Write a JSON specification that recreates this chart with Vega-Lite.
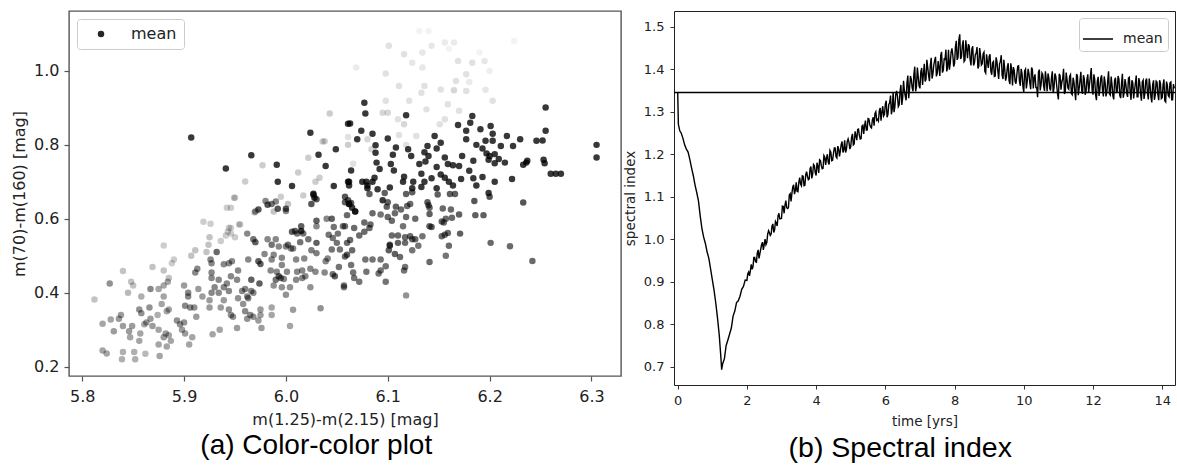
{
  "$schema": "https://vega.github.io/schema/vega-lite/v6.json",
  "background": "white",
  "padding": {"left": 10, "top": 10, "right": 0, "bottom": 0},
  "spacing": 0,
  "config": {"font": "DejaVu Sans", "view": {"stroke": "#555", "strokeWidth": 1.2}},
  "resolve": {"scale": {"color": "independent", "opacity": "independent"}, "legend": {"color": "independent"}},
  "datasets": {
    "pts": [
      {"x":5.907,"y":0.82,"w":1},{"x":5.941,"y":0.736,"w":1},{"x":5.966,"y":0.772,"w":1},{"x":5.991,"y":0.746,"w":1},{"x":5.977,"y":0.745,"w":0.25},{"x":5.96,"y":0.701,"w":0.25},{"x":5.992,"y":0.7,"w":1},{"x":6.006,"y":0.689,"w":1},{"x":6.024,"y":0.833,"w":1},{"x":6.032,"y":0.773,"w":1},{"x":6.039,"y":0.743,"w":1},{"x":6.049,"y":0.788,"w":1},{"x":6.043,"y":0.885,"w":0.25},{"x":6.036,"y":0.809,"w":0.25},{"x":6.038,"y":0.81,"w":0.25},{"x":6.022,"y":0.765,"w":0.25},{"x":6.012,"y":0.725,"w":0.25},{"x":6.033,"y":0.711,"w":0.25},{"x":6.029,"y":0.7,"w":0.25},{"x":6.047,"y":0.689,"w":1},{"x":6.027,"y":0.668,"w":1},{"x":6.061,"y":0.857,"w":1},{"x":6.061,"y":0.8,"w":0.25},{"x":6.061,"y":0.7,"w":1},
      {"x":5.949,"y":0.657,"w":0.25},{"x":5.942,"y":0.63,"w":0.25},{"x":5.944,"y":0.576,"w":0.25},{"x":5.954,"y":0.585,"w":0.25},{"x":5.969,"y":0.617,"w":0.25},{"x":5.98,"y":0.648,"w":0.6},{"x":5.99,"y":0.647,"w":0.6},{"x":6.0,"y":0.621,"w":0.6},{"x":5.97,"y":0.62,"w":0.6},{"x":5.995,"y":0.66,"w":0.25},{"x":6.028,"y":0.657,"w":1},{"x":6.015,"y":0.567,"w":1},{"x":6.03,"y":0.58,"w":0.6},{"x":6.04,"y":0.6,"w":0.6},{"x":6.062,"y":0.64,"w":1},{"x":6.065,"y":0.63,"w":1},{"x":6.068,"y":0.62,"w":1},{"x":6.075,"y":0.7,"w":1},{"x":6.08,"y":0.69,"w":1},{"x":6.085,"y":0.7,"w":1},{"x":6.095,"y":0.65,"w":1},
      {"x":6.069,"y":1.009,"w":0.1},{"x":6.101,"y":1.068,"w":0.15},{"x":6.116,"y":1.045,"w":0.15},{"x":6.098,"y":0.993,"w":0.15},{"x":6.111,"y":0.959,"w":0.15},{"x":6.124,"y":1.022,"w":0.12},{"x":6.134,"y":1.009,"w":0.12},{"x":6.134,"y":1.05,"w":0.12},{"x":6.143,"y":1.068,"w":0.12},{"x":6.156,"y":1.077,"w":0.1},{"x":6.165,"y":1.077,"w":0.1},{"x":6.131,"y":1.108,"w":0.06},{"x":6.14,"y":1.108,"w":0.06},{"x":6.169,"y":1.027,"w":0.15},{"x":6.183,"y":1.022,"w":0.15},{"x":6.195,"y":1.027,"w":0.12},{"x":6.177,"y":0.991,"w":0.15},{"x":6.167,"y":0.973,"w":0.15},{"x":6.165,"y":0.948,"w":0.2},{"x":6.152,"y":0.95,"w":0.15},{"x":6.136,"y":0.959,"w":0.15},{"x":6.133,"y":0.941,"w":0.15},{"x":6.121,"y":0.919,"w":0.15},{"x":6.138,"y":0.896,"w":0.15},{"x":6.159,"y":0.91,"w":0.15},{"x":6.177,"y":0.946,"w":0.15},{"x":6.196,"y":0.949,"w":0.12},{"x":6.203,"y":0.919,"w":0.15},{"x":6.17,"y":0.892,"w":0.15},{"x":6.156,"y":0.869,"w":0.15},{"x":6.151,"y":0.856,"w":0.15},{"x":6.116,"y":0.856,"w":0.2},{"x":6.11,"y":0.869,"w":0.15},{"x":6.1,"y":0.887,"w":0.2},{"x":6.095,"y":0.887,"w":0.2},{"x":6.098,"y":0.919,"w":0.15},{"x":6.061,"y":0.821,"w":0.15},{"x":6.08,"y":0.815,"w":0.2},{"x":6.111,"y":0.827,"w":0.15},{"x":6.128,"y":0.824,"w":0.15},{"x":6.084,"y":0.788,"w":0.2},{"x":6.118,"y":0.8,"w":0.15},{"x":6.066,"y":0.749,"w":0.15},{"x":6.224,"y":1.081,"w":0.06},{"x":6.16,"y":1.06,"w":0.06},{"x":6.19,"y":1.05,"w":0.06},{"x":6.2,"y":1.0,"w":0.08},{"x":6.18,"y":0.97,"w":0.1},
      {"x":6.077,"y":0.914,"w":1},{"x":6.078,"y":0.885,"w":1},{"x":6.063,"y":0.858,"w":1},{"x":6.074,"y":0.838,"w":1},{"x":6.07,"y":0.815,"w":1},{"x":6.085,"y":0.83,"w":1},{"x":6.118,"y":0.88,"w":1},{"x":6.1,"y":0.817,"w":1},{"x":6.088,"y":0.799,"w":1},{"x":6.088,"y":0.779,"w":1},{"x":6.108,"y":0.793,"w":1},{"x":6.12,"y":0.788,"w":1},{"x":6.105,"y":0.773,"w":1},{"x":6.123,"y":0.77,"w":1},{"x":6.089,"y":0.752,"w":1},{"x":6.064,"y":0.731,"w":1},{"x":6.092,"y":0.735,"w":1},{"x":6.103,"y":0.748,"w":1},{"x":6.106,"y":0.731,"w":1},{"x":6.087,"y":0.711,"w":1},{"x":6.079,"y":0.7,"w":1},{"x":6.062,"y":0.7,"w":1},{"x":6.062,"y":0.69,"w":1},{"x":6.08,"y":0.683,"w":1},{"x":6.09,"y":0.68,"w":1},{"x":6.102,"y":0.685,"w":1},{"x":6.116,"y":0.714,"w":1},{"x":6.115,"y":0.7,"w":1},{"x":6.125,"y":0.7,"w":1},{"x":6.133,"y":0.722,"w":1},{"x":6.131,"y":0.748,"w":1},{"x":6.139,"y":0.797,"w":1},{"x":6.146,"y":0.824,"w":1},{"x":6.152,"y":0.806,"w":1},{"x":6.148,"y":0.79,"w":1},{"x":6.136,"y":0.78,"w":1},{"x":6.14,"y":0.77,"w":1},{"x":6.137,"y":0.755,"w":1},{"x":6.156,"y":0.766,"w":1},{"x":6.159,"y":0.748,"w":1},{"x":6.164,"y":0.745,"w":1},{"x":6.17,"y":0.743,"w":1},{"x":6.148,"y":0.74,"w":1},{"x":6.143,"y":0.71,"w":1},{"x":6.152,"y":0.72,"w":1},{"x":6.156,"y":0.711,"w":1},{"x":6.136,"y":0.7,"w":1},{"x":6.124,"y":0.683,"w":1},{"x":6.133,"y":0.686,"w":1},{"x":6.148,"y":0.683,"w":1},{"x":6.16,"y":0.7,"w":1},{"x":6.164,"y":0.69,"w":1},{"x":6.172,"y":0.708,"w":1},{"x":6.173,"y":0.77,"w":1},{"x":6.169,"y":0.854,"w":1},{"x":6.177,"y":0.838,"w":1},{"x":6.183,"y":0.878,"w":1},{"x":6.181,"y":0.86,"w":1},{"x":6.191,"y":0.842,"w":1},{"x":6.201,"y":0.851,"w":1},{"x":6.203,"y":0.83,"w":1},{"x":6.177,"y":0.815,"w":1},{"x":6.187,"y":0.8,"w":1},{"x":6.193,"y":0.79,"w":1},{"x":6.196,"y":0.811,"w":1},{"x":6.203,"y":0.811,"w":1},{"x":6.211,"y":0.797,"w":1},{"x":6.217,"y":0.824,"w":1},{"x":6.197,"y":0.777,"w":1},{"x":6.2,"y":0.77,"w":1},{"x":6.205,"y":0.775,"w":1},{"x":6.209,"y":0.762,"w":1},{"x":6.199,"y":0.76,"w":1},{"x":6.205,"y":0.75,"w":1},{"x":6.215,"y":0.752,"w":1},{"x":6.223,"y":0.797,"w":1},{"x":6.23,"y":0.815,"w":1},{"x":6.246,"y":0.811,"w":1},{"x":6.252,"y":0.812,"w":1},{"x":6.255,"y":0.901,"w":1},{"x":6.255,"y":0.838,"w":1},{"x":6.236,"y":0.752,"w":1},{"x":6.237,"y":0.757,"w":1},{"x":6.233,"y":0.746,"w":1},{"x":6.253,"y":0.76,"w":1},{"x":6.254,"y":0.75,"w":1},{"x":6.26,"y":0.722,"w":1},{"x":6.265,"y":0.722,"w":1},{"x":6.27,"y":0.722,"w":1},{"x":6.222,"y":0.708,"w":1},{"x":6.184,"y":0.757,"w":1},{"x":6.18,"y":0.73,"w":1},{"x":6.184,"y":0.71,"w":1},{"x":6.193,"y":0.713,"w":1},{"x":6.187,"y":0.69,"w":1},{"x":6.205,"y":0.7,"w":1},{"x":6.199,"y":0.67,"w":1},{"x":6.305,"y":0.8,"w":1},{"x":6.305,"y":0.766,"w":1},
      {"x":5.812,"y":0.382,"w":0.3},{"x":5.827,"y":0.425,"w":0.55},{"x":5.84,"y":0.459,"w":0.3},{"x":5.82,"y":0.316,"w":0.45},{"x":5.828,"y":0.328,"w":0.45},{"x":5.831,"y":0.296,"w":0.5},{"x":5.836,"y":0.33,"w":0.5},{"x":5.84,"y":0.31,"w":0.5},{"x":5.838,"y":0.34,"w":0.5},{"x":5.82,"y":0.244,"w":0.45},{"x":5.824,"y":0.236,"w":0.45},{"x":5.84,"y":0.24,"w":0.4},{"x":5.839,"y":0.22,"w":0.4},{"x":5.851,"y":0.24,"w":0.4},{"x":5.852,"y":0.22,"w":0.4},{"x":5.862,"y":0.235,"w":0.35},{"x":5.876,"y":0.229,"w":0.45},{"x":5.846,"y":0.296,"w":0.5},{"x":5.849,"y":0.31,"w":0.5},{"x":5.857,"y":0.29,"w":0.45},{"x":5.847,"y":0.28,"w":0.45},{"x":5.856,"y":0.27,"w":0.45},{"x":5.848,"y":0.43,"w":0.3},{"x":5.85,"y":0.42,"w":0.3},{"x":5.845,"y":0.4,"w":0.35},{"x":5.867,"y":0.41,"w":0.6},{"x":5.858,"y":0.39,"w":0.4},{"x":5.866,"y":0.36,"w":0.55},{"x":5.856,"y":0.355,"w":0.55},{"x":5.858,"y":0.345,"w":0.55},{"x":5.863,"y":0.32,"w":0.5},{"x":5.867,"y":0.33,"w":0.5},{"x":5.869,"y":0.31,"w":0.5},{"x":5.861,"y":0.315,"w":0.45},{"x":5.874,"y":0.34,"w":0.4},{"x":5.875,"y":0.3,"w":0.45},{"x":5.882,"y":0.29,"w":0.5},{"x":5.88,"y":0.28,"w":0.5},{"x":5.885,"y":0.285,"w":0.45},{"x":5.875,"y":0.26,"w":0.45},{"x":5.883,"y":0.255,"w":0.45},{"x":5.887,"y":0.27,"w":0.45},{"x":5.869,"y":0.47,"w":0.3},{"x":5.88,"y":0.46,"w":0.3},{"x":5.88,"y":0.528,"w":0.25},{"x":5.875,"y":0.41,"w":0.45},{"x":5.88,"y":0.42,"w":0.45},{"x":5.884,"y":0.43,"w":0.45},{"x":5.885,"y":0.44,"w":0.3},{"x":5.89,"y":0.49,"w":0.25},{"x":5.888,"y":0.48,"w":0.25},{"x":5.88,"y":0.39,"w":0.45},{"x":5.878,"y":0.37,"w":0.45},{"x":5.885,"y":0.355,"w":0.45},{"x":5.883,"y":0.35,"w":0.45},{"x":5.893,"y":0.325,"w":0.55},{"x":5.896,"y":0.315,"w":0.55},{"x":5.9,"y":0.32,"w":0.55},{"x":5.898,"y":0.3,"w":0.5},{"x":5.901,"y":0.29,"w":0.5},{"x":5.905,"y":0.26,"w":0.45},{"x":5.908,"y":0.28,"w":0.45},{"x":5.9,"y":0.42,"w":0.5},{"x":5.904,"y":0.4,"w":0.6},{"x":5.904,"y":0.39,"w":0.6},{"x":5.901,"y":0.365,"w":0.6},{"x":5.906,"y":0.36,"w":0.6},{"x":5.91,"y":0.36,"w":0.55},{"x":5.912,"y":0.335,"w":0.5},{"x":5.914,"y":0.41,"w":0.5},{"x":5.907,"y":0.5,"w":0.3},{"x":5.911,"y":0.515,"w":0.3},{"x":5.919,"y":0.592,"w":0.25},{"x":5.926,"y":0.587,"w":0.25},{"x":5.922,"y":0.51,"w":0.3},{"x":5.925,"y":0.55,"w":0.3},{"x":5.924,"y":0.53,"w":0.3},{"x":5.911,"y":0.455,"w":0.6},{"x":5.913,"y":0.465,"w":0.6},{"x":5.926,"y":0.49,"w":0.6},{"x":5.927,"y":0.48,"w":0.6},{"x":5.927,"y":0.455,"w":0.6},{"x":5.932,"y":0.51,"w":0.75},{"x":5.927,"y":0.44,"w":0.6},{"x":5.934,"y":0.435,"w":0.6},{"x":5.93,"y":0.415,"w":0.6},{"x":5.927,"y":0.4,"w":0.6},{"x":5.925,"y":0.38,"w":0.5},{"x":5.925,"y":0.36,"w":0.5},{"x":5.918,"y":0.39,"w":0.5},{"x":5.934,"y":0.4,"w":0.6},{"x":5.939,"y":0.415,"w":0.6},{"x":5.942,"y":0.425,"w":0.6},{"x":5.944,"y":0.405,"w":0.6},{"x":5.939,"y":0.38,"w":0.5},{"x":5.946,"y":0.445,"w":0.6},{"x":5.953,"y":0.46,"w":0.6},{"x":5.952,"y":0.435,"w":0.6},{"x":5.944,"y":0.48,"w":0.6},{"x":5.939,"y":0.477,"w":0.6},{"x":5.947,"y":0.485,"w":0.6},{"x":5.936,"y":0.36,"w":0.5},{"x":5.935,"y":0.3,"w":0.45},{"x":5.928,"y":0.288,"w":0.45},{"x":5.944,"y":0.355,"w":0.55},{"x":5.946,"y":0.34,"w":0.55},{"x":5.948,"y":0.335,"w":0.55},{"x":5.952,"y":0.305,"w":0.5},{"x":5.953,"y":0.385,"w":0.55},{"x":5.957,"y":0.405,"w":0.6},{"x":5.96,"y":0.41,"w":0.6},{"x":5.962,"y":0.39,"w":0.6},{"x":5.958,"y":0.37,"w":0.55},{"x":5.963,"y":0.385,"w":0.6},{"x":5.966,"y":0.405,"w":0.6},{"x":5.968,"y":0.4,"w":0.6},{"x":5.966,"y":0.435,"w":0.8},{"x":5.974,"y":0.425,"w":0.8},{"x":5.96,"y":0.35,"w":0.6},{"x":5.965,"y":0.34,"w":0.6},{"x":5.962,"y":0.33,"w":0.55},{"x":5.968,"y":0.335,"w":0.55},{"x":5.975,"y":0.355,"w":0.5},{"x":5.975,"y":0.34,"w":0.5},{"x":5.973,"y":0.325,"w":0.5},{"x":5.976,"y":0.305,"w":0.5},{"x":5.986,"y":0.36,"w":0.45},{"x":5.986,"y":0.34,"w":0.45},{"x":6.004,"y":0.31,"w":0.45},{"x":6.007,"y":0.354,"w":0.5},{"x":6.034,"y":0.358,"w":0.55},{"x":5.946,"y":0.56,"w":0.25},{"x":5.941,"y":0.555,"w":0.25},{"x":5.943,"y":0.565,"w":0.25},{"x":5.946,"y":0.575,"w":0.25},{"x":5.955,"y":0.585,"w":0.25},{"x":5.95,"y":0.55,"w":0.25},{"x":5.946,"y":0.63,"w":0.25},{"x":5.95,"y":0.657,"w":0.25},{"x":5.936,"y":0.54,"w":0.25},{"x":5.962,"y":0.56,"w":0.6},{"x":5.968,"y":0.545,"w":0.7},{"x":5.97,"y":0.537,"w":0.8},{"x":5.973,"y":0.625,"w":0.85},{"x":5.963,"y":0.49,"w":0.6},{"x":5.973,"y":0.485,"w":0.8},{"x":5.975,"y":0.478,"w":0.8},{"x":5.979,"y":0.505,"w":0.6},{"x":5.982,"y":0.545,"w":0.6},{"x":5.99,"y":0.545,"w":0.6},{"x":5.986,"y":0.53,"w":0.7},{"x":5.993,"y":0.525,"w":0.6},{"x":6.0,"y":0.525,"w":0.6},{"x":6.005,"y":0.52,"w":0.6},{"x":5.988,"y":0.503,"w":0.6},{"x":5.986,"y":0.49,"w":0.6},{"x":5.985,"y":0.46,"w":0.6},{"x":5.991,"y":0.457,"w":0.6},{"x":5.996,"y":0.475,"w":0.6},{"x":5.996,"y":0.495,"w":0.6},{"x":5.99,"y":0.435,"w":0.7},{"x":5.993,"y":0.445,"w":0.8},{"x":5.995,"y":0.44,"w":0.7},{"x":5.998,"y":0.437,"w":0.6},{"x":6.001,"y":0.457,"w":0.6},{"x":5.988,"y":0.42,"w":0.55},{"x":5.996,"y":0.415,"w":0.55},{"x":6.0,"y":0.395,"w":0.55},{"x":6.004,"y":0.415,"w":0.55},{"x":6.01,"y":0.435,"w":0.6},{"x":6.016,"y":0.44,"w":0.6},{"x":6.019,"y":0.445,"w":0.6},{"x":6.011,"y":0.457,"w":0.6},{"x":6.016,"y":0.46,"w":0.6},{"x":6.01,"y":0.49,"w":0.6},{"x":6.018,"y":0.493,"w":0.6},{"x":6.024,"y":0.465,"w":0.6},{"x":6.024,"y":0.415,"w":0.55},{"x":6.029,"y":0.457,"w":0.6},{"x":6.025,"y":0.515,"w":0.65},{"x":6.03,"y":0.507,"w":0.65},{"x":6.03,"y":0.535,"w":0.8},{"x":6.038,"y":0.455,"w":0.6},{"x":6.041,"y":0.493,"w":0.6},{"x":6.039,"y":0.485,"w":0.6},{"x":6.006,"y":0.565,"w":0.8},{"x":6.009,"y":0.567,"w":0.8},{"x":6.011,"y":0.56,"w":0.7},{"x":6.017,"y":0.56,"w":0.7},{"x":6.015,"y":0.58,"w":0.8},{"x":6.022,"y":0.545,"w":0.7},{"x":6.014,"y":0.537,"w":0.7},{"x":6.002,"y":0.53,"w":0.7},{"x":6.007,"y":0.52,"w":0.6},{"x":5.982,"y":0.638,"w":0.85},{"x":5.986,"y":0.64,"w":0.7},{"x":5.992,"y":0.627,"w":0.85},{"x":5.988,"y":0.62,"w":0.3},{"x":6.0,"y":0.627,"w":0.85},{"x":6.002,"y":0.64,"w":0.3},{"x":6.025,"y":0.64,"w":0.85},{"x":6.03,"y":0.653,"w":0.85},{"x":6.027,"y":0.665,"w":0.85},{"x":6.017,"y":0.663,"w":0.25},{"x":6.03,"y":0.595,"w":0.8},{"x":6.045,"y":0.6,"w":0.8},{"x":6.047,"y":0.578,"w":0.7},{"x":6.042,"y":0.557,"w":0.7},{"x":6.046,"y":0.548,"w":0.7},{"x":6.051,"y":0.56,"w":0.7},{"x":6.056,"y":0.58,"w":0.7},{"x":6.05,"y":0.535,"w":0.7},{"x":6.045,"y":0.517,"w":0.7},{"x":6.053,"y":0.517,"w":0.7},{"x":6.06,"y":0.503,"w":0.8},{"x":6.052,"y":0.47,"w":0.7},{"x":6.048,"y":0.445,"w":0.8},{"x":6.046,"y":0.45,"w":0.7},{"x":6.057,"y":0.415,"w":0.65},{"x":6.058,"y":0.66,"w":0.85},{"x":6.061,"y":0.65,"w":0.85},
      {"x":6.082,"y":0.667,"w":0.8},{"x":6.097,"y":0.67,"w":0.8},{"x":6.118,"y":0.667,"w":0.8},{"x":6.124,"y":0.672,"w":0.8},{"x":6.149,"y":0.666,"w":0.8},{"x":6.161,"y":0.667,"w":0.8},{"x":6.166,"y":0.667,"w":0.8},{"x":6.185,"y":0.648,"w":0.85},{"x":6.2,"y":0.66,"w":0.85},{"x":6.233,"y":0.644,"w":0.85},{"x":6.186,"y":0.61,"w":0.8},{"x":6.194,"y":0.61,"w":0.8},{"x":6.17,"y":0.612,"w":0.8},{"x":6.163,"y":0.603,"w":0.75},{"x":6.171,"y":0.56,"w":0.8},{"x":6.201,"y":0.535,"w":0.75},{"x":6.22,"y":0.526,"w":0.75},{"x":6.242,"y":0.486,"w":0.75},{"x":6.159,"y":0.562,"w":0.75},{"x":6.156,"y":0.557,"w":0.75},{"x":6.153,"y":0.553,"w":0.75},{"x":6.16,"y":0.527,"w":0.75},{"x":6.157,"y":0.5,"w":0.7},{"x":6.155,"y":0.59,"w":0.75},{"x":6.153,"y":0.593,"w":0.75},{"x":6.157,"y":0.6,"w":0.75},{"x":6.162,"y":0.625,"w":0.75},{"x":6.154,"y":0.628,"w":0.75},{"x":6.141,"y":0.613,"w":0.8},{"x":6.141,"y":0.58,"w":0.8},{"x":6.143,"y":0.578,"w":0.8},{"x":6.134,"y":0.553,"w":0.7},{"x":6.13,"y":0.527,"w":0.7},{"x":6.124,"y":0.515,"w":0.7},{"x":6.124,"y":0.545,"w":0.75},{"x":6.122,"y":0.553,"w":0.75},{"x":6.127,"y":0.545,"w":0.75},{"x":6.117,"y":0.55,"w":0.75},{"x":6.117,"y":0.535,"w":0.75},{"x":6.112,"y":0.497,"w":0.75},{"x":6.107,"y":0.505,"w":0.8},{"x":6.102,"y":0.527,"w":0.8},{"x":6.101,"y":0.515,"w":0.8},{"x":6.104,"y":0.555,"w":0.75},{"x":6.11,"y":0.555,"w":0.75},{"x":6.115,"y":0.58,"w":0.7},{"x":6.118,"y":0.605,"w":0.75},{"x":6.127,"y":0.6,"w":0.75},{"x":6.119,"y":0.635,"w":0.75},{"x":6.122,"y":0.64,"w":0.75},{"x":6.14,"y":0.637,"w":0.8},{"x":6.139,"y":0.645,"w":0.8},{"x":6.141,"y":0.63,"w":0.75},{"x":6.1,"y":0.645,"w":0.8},{"x":6.099,"y":0.633,"w":0.8},{"x":6.108,"y":0.633,"w":0.8},{"x":6.113,"y":0.625,"w":0.75},{"x":6.107,"y":0.615,"w":0.75},{"x":6.1,"y":0.605,"w":0.75},{"x":6.104,"y":0.595,"w":0.75},{"x":6.093,"y":0.612,"w":0.7},{"x":6.085,"y":0.615,"w":0.75},{"x":6.083,"y":0.585,"w":0.75},{"x":6.077,"y":0.59,"w":0.75},{"x":6.082,"y":0.575,"w":0.75},{"x":6.077,"y":0.565,"w":0.75},{"x":6.072,"y":0.555,"w":0.75},{"x":6.067,"y":0.575,"w":0.75},{"x":6.068,"y":0.62,"w":0.75},{"x":6.062,"y":0.64,"w":0.8},{"x":6.058,"y":0.645,"w":0.8},{"x":6.064,"y":0.643,"w":0.8},{"x":6.06,"y":0.61,"w":0.75},{"x":6.058,"y":0.58,"w":0.7},{"x":6.063,"y":0.543,"w":0.75},{"x":6.06,"y":0.535,"w":0.75},{"x":6.065,"y":0.515,"w":0.75},{"x":6.058,"y":0.498,"w":0.75},{"x":6.064,"y":0.475,"w":0.7},{"x":6.066,"y":0.455,"w":0.7},{"x":6.067,"y":0.44,"w":0.7},{"x":6.072,"y":0.43,"w":0.7},{"x":6.057,"y":0.42,"w":0.7},{"x":6.078,"y":0.49,"w":0.7},{"x":6.085,"y":0.49,"w":0.7},{"x":6.093,"y":0.49,"w":0.7},{"x":6.098,"y":0.472,"w":0.7},{"x":6.093,"y":0.46,"w":0.7},{"x":6.091,"y":0.452,"w":0.7},{"x":6.079,"y":0.457,"w":0.7},{"x":6.098,"y":0.43,"w":0.7},{"x":6.117,"y":0.47,"w":0.7},{"x":6.116,"y":0.46,"w":0.7},{"x":6.141,"y":0.483,"w":0.75},{"x":6.118,"y":0.393,"w":0.55},{"x":6.102,"y":0.53,"w":0.8},{"x":6.11,"y":0.535,"w":0.8}
    ],
    "series": [
      {"t":0.0,"v":1.345},{"t":0.02,"v":1.27},{"t":0.06,"v":1.255},{"t":0.1,"v":1.25},{"t":0.15,"v":1.238},{"t":0.2,"v":1.222},{"t":0.25,"v":1.212},{"t":0.3,"v":1.205},{"t":0.35,"v":1.188},{"t":0.4,"v":1.168},{"t":0.45,"v":1.15},{"t":0.5,"v":1.128},{"t":0.55,"v":1.11},{"t":0.6,"v":1.09},{"t":0.65,"v":1.055},{"t":0.7,"v":1.025},{"t":0.75,"v":1.005},{"t":0.8,"v":0.99},{"t":0.85,"v":0.97},{"t":0.9,"v":0.955},{"t":0.95,"v":0.93},{"t":1.0,"v":0.905},{"t":1.05,"v":0.88},{"t":1.1,"v":0.85},{"t":1.15,"v":0.815},{"t":1.2,"v":0.775},{"t":1.25,"v":0.72},{"t":1.27,"v":0.693},
      {"t":1.3,"v":0.707},{"t":1.35,"v":0.719},{"t":1.4,"v":0.75},{"t":1.45,"v":0.763},{"t":1.5,"v":0.777},{"t":1.55,"v":0.791},{"t":1.6,"v":0.819},{"t":1.65,"v":0.831},{"t":1.7,"v":0.851},{"t":1.75,"v":0.855},{"t":1.8,"v":0.866},{"t":1.85,"v":0.882},{"t":1.9,"v":0.889},{"t":1.95,"v":0.904},{"t":2.0,"v":0.903},{"t":2.05,"v":0.923},{"t":2.1,"v":0.926},{"t":2.15,"v":0.929},{"t":2.2,"v":0.957},{"t":2.25,"v":0.947},{"t":2.3,"v":0.968},{"t":2.35,"v":0.955},{"t":2.4,"v":0.977},{"t":2.45,"v":0.993},{"t":2.5,"v":0.988},{"t":2.55,"v":0.987},{"t":2.6,"v":1.012},{"t":2.65,"v":1.015},{"t":2.7,"v":1.012},{"t":2.75,"v":1.036},{"t":2.8,"v":1.022},{"t":2.85,"v":1.038},{"t":2.9,"v":1.055},{"t":2.95,"v":1.048},{"t":3.0,"v":1.049},{"t":3.05,"v":1.077},{"t":3.1,"v":1.08},{"t":3.15,"v":1.074},{"t":3.2,"v":1.074},{"t":3.25,"v":1.107},{"t":3.3,"v":1.108},{"t":3.35,"v":1.128},{"t":3.4,"v":1.115},{"t":3.45,"v":1.113},{"t":3.5,"v":1.134},{"t":3.55,"v":1.13},{"t":3.6,"v":1.149},{"t":3.65,"v":1.126},{"t":3.7,"v":1.152},{"t":3.75,"v":1.148},{"t":3.8,"v":1.142},{"t":3.85,"v":1.171},{"t":3.9,"v":1.153},{"t":3.95,"v":1.173},{"t":4.0,"v":1.15},{"t":4.05,"v":1.172},{"t":4.1,"v":1.187},{"t":4.15,"v":1.173},{"t":4.2,"v":1.167},{"t":4.25,"v":1.193},{"t":4.3,"v":1.191},{"t":4.35,"v":1.181},{"t":4.4,"v":1.209},{"t":4.45,"v":1.185},{"t":4.5,"v":1.201},{"t":4.55,"v":1.215},{"t":4.6,"v":1.191},{"t":4.65,"v":1.213},{"t":4.7,"v":1.208},{"t":4.75,"v":1.23},{"t":4.8,"v":1.211},{"t":4.85,"v":1.204},{"t":4.9,"v":1.23},{"t":4.95,"v":1.228},{"t":5.0,"v":1.218},{"t":5.05,"v":1.248},{"t":5.1,"v":1.224},{"t":5.15,"v":1.243},{"t":5.2,"v":1.258},{"t":5.25,"v":1.244},{"t":5.3,"v":1.237},{"t":5.35,"v":1.268},{"t":5.4,"v":1.267},{"t":5.45,"v":1.257},{"t":5.5,"v":1.284},{"t":5.55,"v":1.27},{"t":5.6,"v":1.262},{"t":5.65,"v":1.287},{"t":5.7,"v":1.296},{"t":5.75,"v":1.28},{"t":5.8,"v":1.278},{"t":5.85,"v":1.309},{"t":5.9,"v":1.299},{"t":5.95,"v":1.29},{"t":6.0,"v":1.318},{"t":6.05,"v":1.287},{"t":6.1,"v":1.317},{"t":6.15,"v":1.338},{"t":6.2,"v":1.306},{"t":6.25,"v":1.299},{"t":6.3,"v":1.34},{"t":6.35,"v":1.337},{"t":6.4,"v":1.316},{"t":6.45,"v":1.363},{"t":6.5,"v":1.332},{"t":6.55,"v":1.35},{"t":6.6,"v":1.327},{"t":6.65,"v":1.385},{"t":6.7,"v":1.354},{"t":6.75,"v":1.376},{"t":6.8,"v":1.348},{"t":6.85,"v":1.406},{"t":6.9,"v":1.359},{"t":6.95,"v":1.382},{"t":7.0,"v":1.355},{"t":7.05,"v":1.403},{"t":7.1,"v":1.388},{"t":7.15,"v":1.371},{"t":7.2,"v":1.422},{"t":7.25,"v":1.385},{"t":7.3,"v":1.41},{"t":7.35,"v":1.378},{"t":7.4,"v":1.41},{"t":7.45,"v":1.429},{"t":7.5,"v":1.391},{"t":7.55,"v":1.403},{"t":7.6,"v":1.432},{"t":7.65,"v":1.392},{"t":7.7,"v":1.424},{"t":7.75,"v":1.446},{"t":7.8,"v":1.406},{"t":7.85,"v":1.399},{"t":7.9,"v":1.44},{"t":7.95,"v":1.433},{"t":8.0,"v":1.414},{"t":8.05,"v":1.467},{"t":8.1,"v":1.428},{"t":8.15,"v":1.482},{"t":8.2,"v":1.43},{"t":8.25,"v":1.468},{"t":8.3,"v":1.421},{"t":8.35,"v":1.447},{"t":8.4,"v":1.459},{"t":8.45,"v":1.423},{"t":8.5,"v":1.448},{"t":8.55,"v":1.409},{"t":8.6,"v":1.434},{"t":8.65,"v":1.452},{"t":8.7,"v":1.407},{"t":8.75,"v":1.433},{"t":8.8,"v":1.413},{"t":8.85,"v":1.44},{"t":8.9,"v":1.391},{"t":8.95,"v":1.417},{"t":9.0,"v":1.43},{"t":9.05,"v":1.395},{"t":9.1,"v":1.415},{"t":9.15,"v":1.383},{"t":9.2,"v":1.428},{"t":9.25,"v":1.396},{"t":9.3,"v":1.412},{"t":9.35,"v":1.433},{"t":9.4,"v":1.377},{"t":9.45,"v":1.4},{"t":9.5,"v":1.382},{"t":9.55,"v":1.414},{"t":9.6,"v":1.365},{"t":9.65,"v":1.399},{"t":9.7,"v":1.405},{"t":9.75,"v":1.371},{"t":9.8,"v":1.387},{"t":9.85,"v":1.408},{"t":9.9,"v":1.361},{"t":9.95,"v":1.39},{"t":10.0,"v":1.346},{"t":10.05,"v":1.4},{"t":10.1,"v":1.371},{"t":10.15,"v":1.39},{"t":10.2,"v":1.353},{"t":10.25,"v":1.399},{"t":10.3,"v":1.379},{"t":10.35,"v":1.357},{"t":10.4,"v":1.334},{"t":10.45,"v":1.399},{"t":10.5,"v":1.363},{"t":10.55,"v":1.387},{"t":10.6,"v":1.349},{"t":10.65,"v":1.375},{"t":10.7,"v":1.39},{"t":10.75,"v":1.355},{"t":10.8,"v":1.379},{"t":10.85,"v":1.344},{"t":10.9,"v":1.39},{"t":10.95,"v":1.363},{"t":11.0,"v":1.329},{"t":11.05,"v":1.385},{"t":11.1,"v":1.37},{"t":11.15,"v":1.401},{"t":11.2,"v":1.346},{"t":11.25,"v":1.376},{"t":11.3,"v":1.353},{"t":11.35,"v":1.387},{"t":11.4,"v":1.34},{"t":11.45,"v":1.37},{"t":11.5,"v":1.327},{"t":11.55,"v":1.384},{"t":11.6,"v":1.354},{"t":11.65,"v":1.394},{"t":11.7,"v":1.342},{"t":11.75,"v":1.376},{"t":11.8,"v":1.348},{"t":11.85,"v":1.388},{"t":11.9,"v":1.365},{"t":11.95,"v":1.403},{"t":12.0,"v":1.34},{"t":12.05,"v":1.377},{"t":12.1,"v":1.327},{"t":12.15,"v":1.382},{"t":12.2,"v":1.353},{"t":12.25,"v":1.386},{"t":12.3,"v":1.336},{"t":12.35,"v":1.37},{"t":12.4,"v":1.345},{"t":12.45,"v":1.395},{"t":12.5,"v":1.339},{"t":12.55,"v":1.364},{"t":12.6,"v":1.329},{"t":12.65,"v":1.38},{"t":12.7,"v":1.348},{"t":12.75,"v":1.376},{"t":12.8,"v":1.332},{"t":12.85,"v":1.389},{"t":12.9,"v":1.345},{"t":12.95,"v":1.365},{"t":13.0,"v":1.335},{"t":13.05,"v":1.381},{"t":13.1,"v":1.328},{"t":13.15,"v":1.368},{"t":13.2,"v":1.35},{"t":13.25,"v":1.385},{"t":13.3,"v":1.335},{"t":13.35,"v":1.369},{"t":13.4,"v":1.326},{"t":13.45,"v":1.374},{"t":13.5,"v":1.343},{"t":13.55,"v":1.378},{"t":13.6,"v":1.329},{"t":13.65,"v":1.361},{"t":13.7,"v":1.322},{"t":13.75,"v":1.374},{"t":13.8,"v":1.34},{"t":13.85,"v":1.37},{"t":13.9,"v":1.327},{"t":13.95,"v":1.366},{"t":14.0,"v":1.333},{"t":14.05,"v":1.376},{"t":14.1,"v":1.323},{"t":14.15,"v":1.362},{"t":14.2,"v":1.335},{"t":14.25,"v":1.37},{"t":14.3,"v":1.328},{"t":14.35,"v":1.355},
      {"t":2.025,"v":0.919},{"t":2.075,"v":0.914},{"t":2.125,"v":0.941},{"t":2.175,"v":0.935},{"t":2.225,"v":0.957},{"t":2.275,"v":0.946},{"t":2.325,"v":0.975},{"t":2.375,"v":0.966},{"t":2.425,"v":0.988},{"t":2.475,"v":0.975},{"t":2.525,"v":1.0},{"t":2.575,"v":0.992},{"t":2.625,"v":1.02},{"t":2.675,"v":1.009},{"t":2.725,"v":1.031},{"t":2.775,"v":1.016},{"t":2.825,"v":1.042},{"t":2.875,"v":1.031},{"t":2.925,"v":1.061},{"t":2.975,"v":1.048},{"t":3.025,"v":1.078},{"t":3.075,"v":1.061},{"t":3.125,"v":1.091},{"t":3.175,"v":1.072},{"t":3.225,"v":1.104},{"t":3.275,"v":1.089},{"t":3.325,"v":1.123},{"t":3.375,"v":1.106},{"t":3.425,"v":1.134},{"t":3.475,"v":1.112},{"t":3.525,"v":1.145},{"t":3.575,"v":1.126},{"t":3.625,"v":1.148},{"t":3.675,"v":1.127},{"t":3.725,"v":1.159},{"t":3.775,"v":1.14},{"t":3.825,"v":1.166},{"t":3.875,"v":1.143},{"t":3.925,"v":1.176},{"t":3.975,"v":1.156},{"t":4.025,"v":1.18},{"t":4.075,"v":1.156},{"t":4.125,"v":1.185},{"t":4.175,"v":1.166},{"t":4.225,"v":1.197},{"t":4.275,"v":1.175},{"t":4.325,"v":1.2},{"t":4.375,"v":1.176},{"t":4.425,"v":1.205},{"t":4.475,"v":1.186},{"t":4.525,"v":1.215},{"t":4.575,"v":1.194},{"t":4.625,"v":1.219},{"t":4.675,"v":1.195},{"t":4.725,"v":1.223},{"t":4.775,"v":1.204},{"t":4.825,"v":1.233},{"t":4.875,"v":1.211},{"t":4.925,"v":1.236},{"t":4.975,"v":1.212},{"t":5.025,"v":1.24},{"t":5.075,"v":1.222},{"t":5.125,"v":1.254},{"t":5.175,"v":1.233},{"t":5.225,"v":1.259},{"t":5.275,"v":1.236},{"t":5.325,"v":1.266},{"t":5.375,"v":1.248},{"t":5.425,"v":1.279},{"t":5.475,"v":1.257},
      {"t":5.525,"v":1.283},{"t":5.575,"v":1.264},{"t":5.625,"v":1.281},{"t":5.675,"v":1.267},{"t":5.725,"v":1.3},{"t":5.775,"v":1.282},{"t":5.825,"v":1.302},{"t":5.875,"v":1.279},{"t":5.925,"v":1.313},{"t":5.975,"v":1.294},{"t":6.025,"v":1.326},{"t":6.075,"v":1.294},{"t":6.125,"v":1.321},{"t":6.175,"v":1.294},{"t":6.225,"v":1.346},{"t":6.275,"v":1.311},{"t":6.325,"v":1.349},{"t":6.375,"v":1.312},{"t":6.425,"v":1.348},{"t":6.475,"v":1.316},{"t":6.525,"v":1.373},{"t":6.575,"v":1.337},{"t":6.625,"v":1.368},{"t":6.675,"v":1.332},{"t":6.725,"v":1.384},{"t":6.775,"v":1.356},{"t":6.825,"v":1.388},{"t":6.875,"v":1.348},{"t":6.925,"v":1.404},{"t":6.975,"v":1.361},{"t":7.025,"v":1.394},{"t":7.075,"v":1.363},{"t":7.125,"v":1.413},{"t":7.175,"v":1.376},{"t":7.225,"v":1.404},{"t":7.275,"v":1.372},{"t":7.325,"v":1.427},{"t":7.375,"v":1.389},{"t":7.425,"v":1.421},{"t":7.475,"v":1.383},{"t":7.525,"v":1.419},{"t":7.575,"v":1.384},{"t":7.625,"v":1.441},{"t":7.675,"v":1.398},{"t":7.725,"v":1.423},{"t":7.775,"v":1.395},{"t":7.825,"v":1.446},{"t":7.875,"v":1.413},{"t":7.925,"v":1.449},{"t":7.975,"v":1.406},{"t":8.025,"v":1.452},{"t":8.075,"v":1.422},{"t":8.125,"v":1.47},{"t":8.175,"v":1.424},{"t":8.225,"v":1.456},{"t":8.275,"v":1.418},{"t":8.325,"v":1.468},{"t":8.375,"v":1.426},{"t":8.425,"v":1.454},{"t":8.475,"v":1.409},{"t":8.525,"v":1.454},{"t":8.575,"v":1.415},{"t":8.625,"v":1.438},{"t":8.675,"v":1.402},{"t":8.725,"v":1.45},{"t":8.775,"v":1.41},{"t":8.825,"v":1.436},{"t":8.875,"v":1.395},{"t":8.925,"v":1.435},{"t":8.975,"v":1.403},{"t":9.025,"v":1.435},{"t":9.075,"v":1.387},{"t":9.125,"v":1.418},{"t":9.175,"v":1.384},{"t":9.225,"v":1.418},{"t":9.275,"v":1.377},{"t":9.325,"v":1.419},{"t":9.375,"v":1.386},{"t":9.425,"v":1.422},{"t":9.475,"v":1.373},{"t":9.525,"v":1.405},{"t":9.575,"v":1.373},{"t":9.625,"v":1.414},{"t":9.675,"v":1.362},{"t":9.725,"v":1.397},{"t":9.775,"v":1.366},{"t":9.825,"v":1.407},{"t":9.875,"v":1.372},{"t":9.925,"v":1.401},{"t":9.975,"v":1.36},{"t":10.025,"v":1.396},{"t":10.075,"v":1.355},{"t":10.125,"v":1.401},{"t":10.175,"v":1.368},{"t":10.225,"v":1.404},{"t":10.275,"v":1.355},{"t":10.325,"v":1.388},{"t":10.375,"v":1.357},{"t":10.425,"v":1.394},{"t":10.475,"v":1.35},{"t":10.525,"v":1.391},{"t":10.575,"v":1.36},{"t":10.625,"v":1.395},{"t":10.675,"v":1.348},{"t":10.725,"v":1.38},{"t":10.775,"v":1.35},{"t":10.825,"v":1.395},{"t":10.875,"v":1.357},{"t":10.925,"v":1.383},{"t":10.975,"v":1.343},{"t":11.025,"v":1.389},{"t":11.075,"v":1.352},{"t":11.125,"v":1.378},{"t":11.175,"v":1.342},{"t":11.225,"v":1.392},{"t":11.275,"v":1.356},{"t":11.325,"v":1.383},{"t":11.375,"v":1.343},{"t":11.425,"v":1.38},{"t":11.475,"v":1.347},{"t":11.525,"v":1.389},{"t":11.575,"v":1.339},{"t":11.625,"v":1.374},{"t":11.675,"v":1.349},{"t":11.725,"v":1.386},{"t":11.775,"v":1.34},{"t":11.825,"v":1.375},{"t":11.875,"v":1.345},{"t":11.925,"v":1.383},{"t":11.975,"v":1.351},{"t":12.025,"v":1.388},{"t":12.075,"v":1.34},{"t":12.125,"v":1.372},{"t":12.175,"v":1.337},{"t":12.225,"v":1.379},{"t":12.275,"v":1.351},{"t":12.325,"v":1.383},{"t":12.375,"v":1.336},{"t":12.425,"v":1.372},{"t":12.475,"v":1.342},{"t":12.525,"v":1.383},{"t":12.575,"v":1.337},{"t":12.625,"v":1.374},{"t":12.675,"v":1.346},{"t":12.725,"v":1.384},{"t":12.775,"v":1.338},{"t":12.825,"v":1.367},{"t":12.875,"v":1.333},{"t":12.925,"v":1.377},{"t":12.975,"v":1.343},{"t":13.025,"v":1.379},{"t":13.075,"v":1.346},{"t":13.125,"v":1.374},{"t":13.175,"v":1.331},{"t":13.225,"v":1.367},{"t":13.275,"v":1.335},{"t":13.325,"v":1.379},{"t":13.375,"v":1.342},{"t":13.425,"v":1.37},{"t":13.475,"v":1.33},{"t":13.525,"v":1.373},{"t":13.575,"v":1.343},{"t":13.625,"v":1.378},{"t":13.675,"v":1.335},{"t":13.725,"v":1.364},{"t":13.775,"v":1.328},{"t":13.825,"v":1.372},{"t":13.875,"v":1.34},{"t":13.925,"v":1.374},{"t":13.975,"v":1.331},{"t":14.025,"v":1.363},{"t":14.075,"v":1.326},{"t":14.125,"v":1.371},{"t":14.175,"v":1.338},{"t":14.225,"v":1.368},{"t":14.275,"v":1.328},{"t":14.325,"v":1.365}
    ]
  },
  "hconcat": [
    {
      "width": 552,
      "height": 365,
      "view": {"stroke": "#555", "strokeWidth": 1.4},
      "title": {"text": "(a) Color-color plot", "orient": "bottom", "anchor": "middle", "frame": "bounds", "font": "Liberation Sans", "fontSize": 28, "fontWeight": "normal", "color": "#000", "offset": 5},
      "data": {"name": "pts"},
      "mark": {"type": "circle", "size": 42},
      "encoding": {
        "x": {"field": "x", "type": "quantitative", "scale": {"domain": [5.787, 6.329], "nice": false, "zero": false},
          "axis": {"title": "m(1.25)-m(2.15) [mag]", "values": [5.8, 5.9, 6.0, 6.1, 6.2, 6.3], "format": ".1f", "grid": false, "domain": false, "labelFlush": false, "labelOverlap": false,
            "labelFontSize": 16, "titleFontSize": 16, "titleFontWeight": "normal", "labelFont": "DejaVu Sans", "titleFont": "DejaVu Sans",
            "labelColor": "#222", "titleColor": "#222", "tickColor": "#555", "tickWidth": 1.2, "tickSize": 5, "labelPadding": 7, "titlePadding": 7}},
        "y": {"field": "y", "type": "quantitative", "scale": {"domain": [0.175, 1.162], "nice": false, "zero": false},
          "axis": {"title": "m(70)-m(160) [mag]", "values": [0.2, 0.4, 0.6, 0.8, 1.0], "format": ".1f", "grid": false, "domain": false, "labelFlush": false, "labelOverlap": false,
            "labelFontSize": 16, "titleFontSize": 16, "titleFontWeight": "normal", "labelFont": "DejaVu Sans", "titleFont": "DejaVu Sans",
            "labelColor": "#222", "titleColor": "#222", "tickColor": "#555", "tickWidth": 1.2, "tickSize": 5, "labelPadding": 5, "titlePadding": 6}},
        "opacity": {"field": "w", "type": "quantitative", "scale": {"domain": [0, 1], "range": [0, 0.78]}, "legend": null},
        "color": {"datum": "mean", "scale": {"range": ["#000000"]},
          "legend": {"title": null, "orient": "top-left", "offset": 8, "padding": 7, "strokeColor": "#cccccc", "fillColor": "rgba(255,255,255,0.8)", "cornerRadius": 3,
            "labelFontSize": 16, "labelFont": "DejaVu Sans", "labelColor": "#222", "symbolType": "circle", "symbolSize": 42, "symbolOpacity": 0.85, "symbolStrokeWidth": 0,
            "symbolOffset": 9, "labelOffset": 22}}
      }
    },
    {
      "width": 501,
      "height": 374,
      "view": {"stroke": "#222", "strokeWidth": 1},
      "title": {"text": "(b) Spectral index", "orient": "bottom", "anchor": "middle", "frame": "bounds", "font": "Liberation Sans", "fontSize": 28.5, "fontWeight": "normal", "color": "#000", "offset": 6},
      "layer": [
        {
          "data": {"name": "series"},
          "mark": {"type": "line", "color": "#000", "strokeWidth": 1.4},
          "encoding": {
            "x": {"field": "t", "type": "quantitative", "scale": {"domain": [-0.107, 14.37], "nice": false, "zero": false},
              "axis": {"title": "time [yrs]", "values": [0, 2, 4, 6, 8, 10, 12, 14], "grid": false, "domain": false, "labelFlush": false, "labelOverlap": false,
                "labelFontSize": 13, "titleFontSize": 13.5, "titleFontWeight": "normal", "labelFont": "DejaVu Sans", "titleFont": "DejaVu Sans",
                "labelColor": "#222", "titleColor": "#222", "tickColor": "#333", "tickSize": 4, "labelPadding": 5, "titlePadding": 7}},
            "y": {"field": "v", "type": "quantitative", "scale": {"domain": [0.657, 1.537], "nice": false, "zero": false},
              "axis": {"title": "spectral index", "values": [0.7, 0.8, 0.9, 1.0, 1.1, 1.2, 1.3, 1.4, 1.5], "format": ".1f", "grid": false, "domain": false, "labelFlush": false, "labelOverlap": false,
                "labelFontSize": 13, "titleFontSize": 13.5, "titleFontWeight": "normal", "labelFont": "DejaVu Sans", "titleFont": "DejaVu Sans",
                "labelColor": "#222", "titleColor": "#222", "tickColor": "#333", "tickSize": 4, "labelPadding": 6, "titlePadding": 6}}
          }
        },
        {
          "data": {"values": [{"m": 1.345}]},
          "mark": {"type": "rule", "strokeWidth": 1.5},
          "encoding": {
            "y": {"field": "m", "type": "quantitative"},
            "color": {"datum": "mean", "scale": {"range": ["#000000"]},
              "legend": {"title": null, "orient": "top-right", "offset": 7, "padding": 5, "strokeColor": "#cccccc", "fillColor": "rgba(255,255,255,0.8)", "cornerRadius": 3,
                "labelFontSize": 14, "labelFont": "DejaVu Sans", "labelColor": "#222", "symbolType": "stroke", "symbolSize": 900, "symbolStrokeWidth": 2, "symbolOpacity": 0.75,
                "symbolOffset": -2, "labelOffset": 9}}
          }
        }
      ]
    }
  ]
}
